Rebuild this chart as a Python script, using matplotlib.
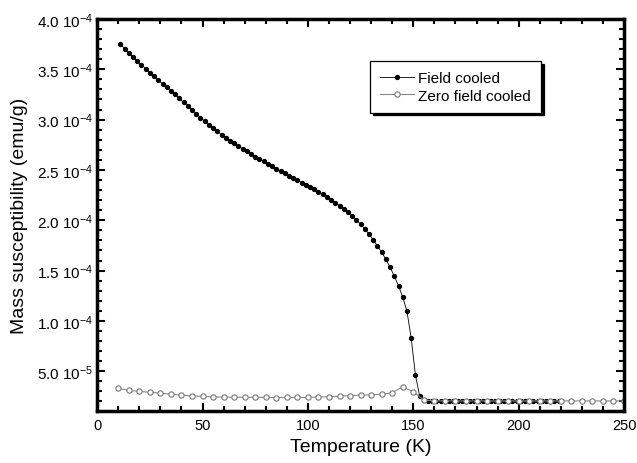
import matplotlib.pyplot as plt
import numpy as np
from matplotlib.ticker import MultipleLocator, FixedLocator

plt.rcParams['font.family'] = ['Liberation Sans', 'DejaVu Sans']
plt.rcParams['mathtext.default'] = 'regular'

# field cooled, every 2 K (odd temperatures), values in 1e-4 emu/g
T_fc = np.arange(11, 220, 2)
chi_fc = [3.750, 3.705, 3.660, 3.620, 3.580, 3.545, 3.505, 3.465, 3.430, 3.390,
          3.355, 3.320, 3.285, 3.250, 3.210, 3.170, 3.135, 3.095, 3.060, 3.020,
          2.985, 2.950, 2.915, 2.882, 2.851, 2.821, 2.792, 2.764, 2.737, 2.710,
          2.684, 2.658, 2.633, 2.608, 2.584, 2.560, 2.536, 2.513, 2.490, 2.467,
          2.444, 2.421, 2.398, 2.375, 2.352, 2.329, 2.306, 2.282, 2.257, 2.231,
          2.204, 2.176, 2.146, 2.114, 2.080, 2.043, 2.003, 1.960, 1.913, 1.862,
          1.805, 1.745, 1.682, 1.612, 1.532, 1.445, 1.350, 1.235, 1.095, 0.830,
          0.465, 0.255, 0.215, 0.208, 0.206, 0.205, 0.206, 0.205, 0.204, 0.205,
          0.206, 0.205, 0.204, 0.205, 0.205, 0.204, 0.205, 0.206, 0.204, 0.205,
          0.204, 0.205, 0.205, 0.204, 0.205, 0.204, 0.204, 0.205, 0.204, 0.204,
          0.203, 0.204, 0.204, 0.203, 0.204]

# zero field cooled, every 5 K
T_zfc = np.arange(10, 251, 5)
chi_zfc = [0.330, 0.310, 0.300, 0.290, 0.282, 0.272, 0.263, 0.255, 0.250, 0.245,
           0.243, 0.242, 0.241, 0.241, 0.240, 0.238, 0.240, 0.240, 0.240, 0.243,
           0.247, 0.252, 0.258, 0.263, 0.265, 0.272, 0.287, 0.345, 0.295, 0.215,
           0.206, 0.206, 0.205, 0.205, 0.205, 0.205, 0.205, 0.205, 0.205, 0.205,
           0.205, 0.205, 0.205, 0.205, 0.205, 0.205, 0.205, 0.205, 0.205]

ytick_vals = [0.5e-4, 1.0e-4, 1.5e-4, 2.0e-4, 2.5e-4, 3.0e-4, 3.5e-4, 4.0e-4]
ytick_labels = [r'5.0 10$^{-5}$', r'1.0 10$^{-4}$', r'1.5 10$^{-4}$', r'2.0 10$^{-4}$',
                r'2.5 10$^{-4}$', r'3.0 10$^{-4}$', r'3.5 10$^{-4}$', r'4.0 10$^{-4}$']

fig = plt.figure(figsize=(6.37, 4.64), dpi=100)
ax = fig.add_axes([0.1526, 0.111, 0.827, 0.846])

ax.plot(T_fc, np.array(chi_fc) * 1e-4, color='black', lw=0.6, marker='o',
        ms=2.8, mfc='black', mec='black', label='Field cooled')
ax.plot(T_zfc, np.array(chi_zfc) * 1e-4, color='#888888', lw=0.8, marker='o',
        ms=3.8, mfc='white', mec='#777777', mew=0.8, label='Zero field cooled')

ax.set_xlim(0, 250)
ax.set_ylim(1e-5, 4e-4)
ax.xaxis.set_major_locator(MultipleLocator(50))
ax.xaxis.set_minor_locator(MultipleLocator(10))
ax.yaxis.set_major_locator(FixedLocator(ytick_vals))
ax.set_yticklabels(ytick_labels)
ax.yaxis.set_minor_locator(MultipleLocator(1e-5))
ax.tick_params(which='both', direction='in', top=True, right=True, width=1.5)
ax.tick_params(which='major', length=6)
ax.tick_params(axis='y', which='major', pad=3, labelsize=11)
ax.tick_params(axis='x', which='major', pad=5, labelsize=10.5)
ax.tick_params(which='minor', length=3.5)
for s in ax.spines.values():
    s.set_linewidth(2.5)

ax.set_xlabel('Temperature (K)', fontsize=14, labelpad=4)
ax.set_ylabel('Mass susceptibility (emu/g)', fontsize=14, labelpad=6)

leg = ax.legend(loc='upper left', bbox_to_anchor=(0.518, 0.893), fontsize=11,
                fancybox=False, shadow={'color': 'black', 'alpha': 1.0},
                edgecolor='black', handlelength=2.2, handletextpad=0.3,
                borderpad=0.65, labelspacing=0.25, framealpha=1,
                borderaxespad=0)
leg.get_frame().set_linewidth(0.9)

fig.savefig('out.png', dpi=100)
